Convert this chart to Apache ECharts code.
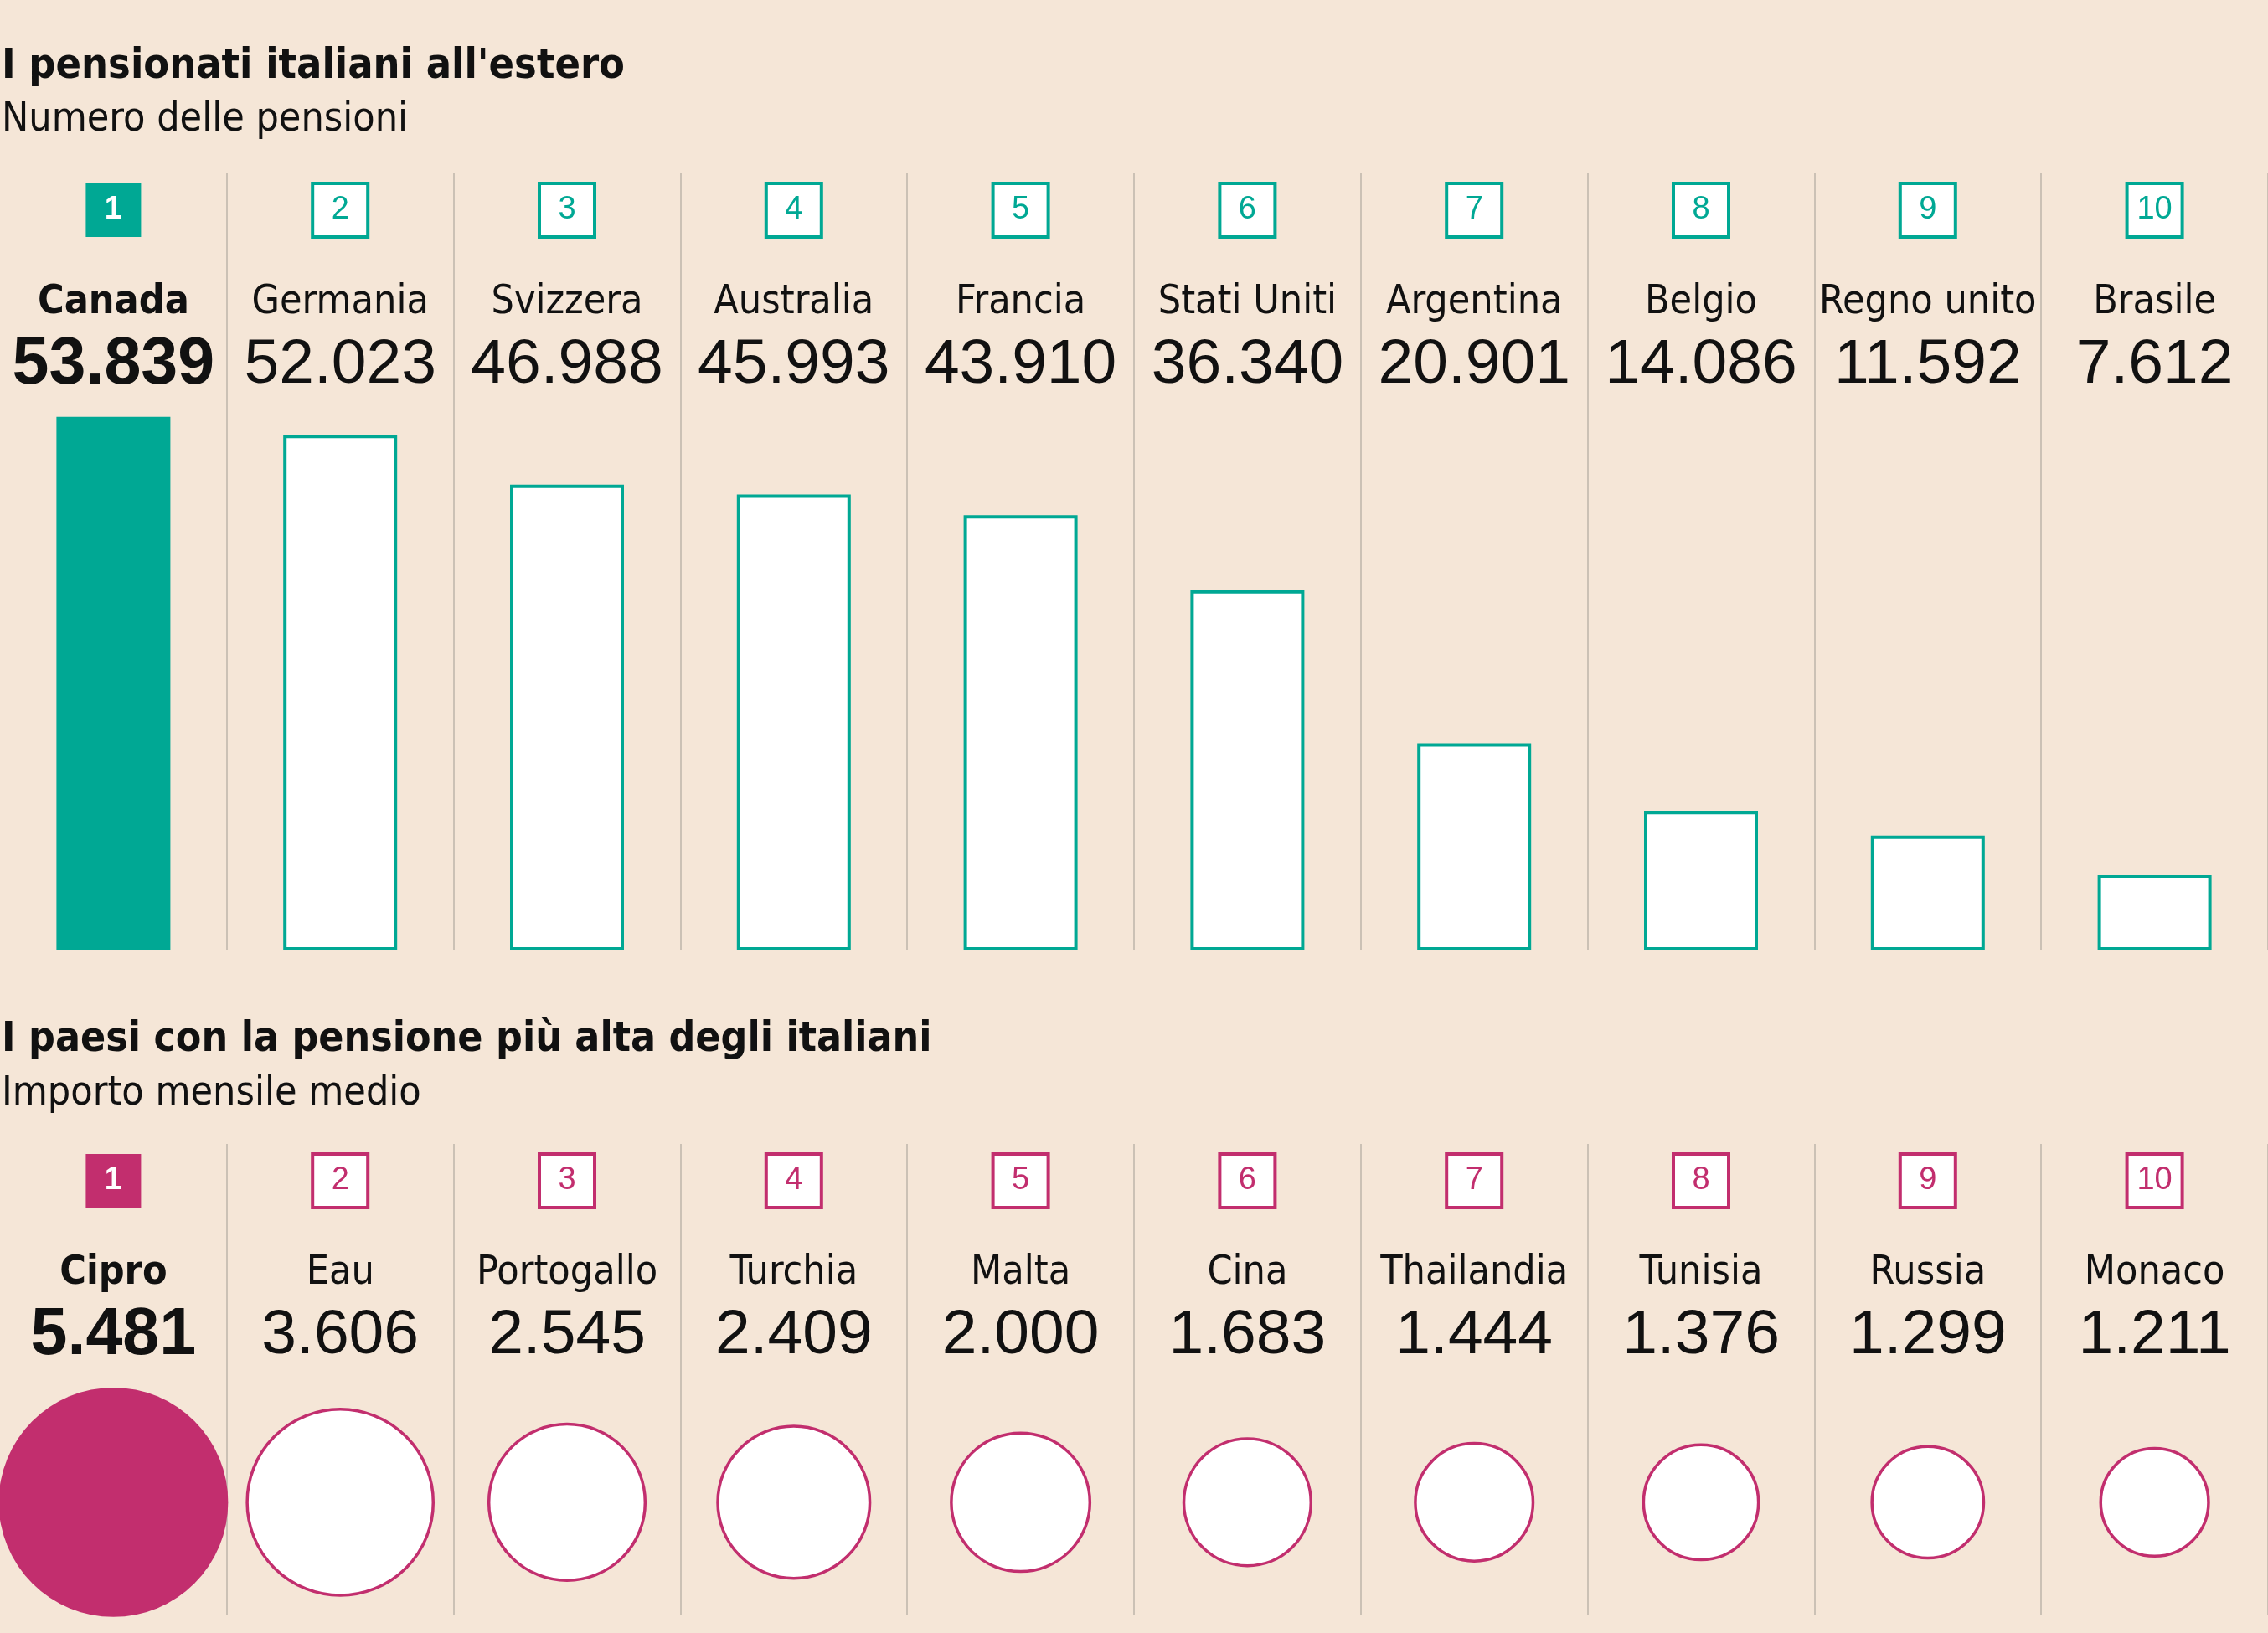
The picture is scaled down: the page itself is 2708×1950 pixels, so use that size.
<!DOCTYPE html>
<html>
<head>
<meta charset="utf-8">
<script src="https://cdn.jsdelivr.net/npm/echarts@6/dist/echarts.min.js"></script>
<style>
html,body{margin:0;padding:0;background:#f5e6d7;}
#chart{width:2708px;height:1950px;}
</style>
</head>
<body>
<div id="chart"></div>
<script>
// ---- Data ----
const ranks = ['1','2','3','4','5','6','7','8','9','10'];
const countriesCount = ['Canada','Germania','Svizzera','Australia','Francia','Stati Uniti','Argentina','Belgio','Regno unito','Brasile'];
const pensionsCount = [53839,52023,46988,45993,43910,36340,20901,14086,11592,7612];
const countriesAmount = ['Cipro','Eau','Portogallo','Turchia','Malta','Cina','Thailandia','Tunisia','Russia','Monaco'];
const monthlyAmount = [5481,3606,2545,2409,2000,1683,1444,1376,1299,1211];
const title1 = "I pensionati italiani all'estero";
const subtitle1 = 'Numero delle pensioni';
const title2 = 'I paesi con la pensione più alta degli italiani';
const subtitle2 = 'Importo mensile medio';

// ---- Styles ----
const BG = '#f5e6d7';
const TEAL = '#00a894';
const MAG = '#c22e6e';
const INK = '#111111';
const DIV = '#bdb4aa';
const COND = '"DejaVu Sans Condensed","Liberation Sans Narrow",sans-serif';
const NUMF = '"Liberation Sans",Arial,sans-serif';

const fmt = n => String(n).replace(/\B(?=(\d{3})+(?!\d))/g, '.');

function rankAxis(grid, color) {
  return {
    gridIndex: grid, type: 'category', data: ranks, position: 'top',
    axisLine: {show: false}, axisTick: {show: false}, splitLine: {show: false},
    axisLabel: {
      inside: true, margin: 44, verticalAlign: 'middle', interval: 0,
      formatter: (v, i) => i === 0 ? '{f|' + v + '}' : '{o|' + v + '}',
      rich: {
        f: {color: '#fff', fontWeight: 'bold', fontFamily: NUMF, fontSize: 38, backgroundColor: color,
            width: 66, height: 64, lineHeight: 64, align: 'center'},
        o: {color: color, fontFamily: NUMF, fontSize: 38, backgroundColor: '#fff', borderColor: color, borderWidth: 4,
            width: 62, height: 60, lineHeight: 60, align: 'center'}
      }
    }
  };
}
function nameAxis(grid, data) {
  return {
    gridIndex: grid, type: 'category', data: data, position: 'top',
    axisLine: {show: false}, axisTick: {show: false}, splitLine: {show: false},
    axisLabel: {
      inside: true, margin: 155, verticalAlign: 'middle', interval: 0,
      formatter: (v, i) => i === 0 ? '{b|' + v + '}' : '{n|' + v + '}',
      rich: {
        b: {color: INK, fontWeight: 'bold', fontFamily: COND, fontSize: 48},
        n: {color: INK, fontFamily: COND, fontSize: 48}
      }
    }
  };
}
function valueAxis(grid, vals) {
  return {
    gridIndex: grid, type: 'category', data: vals.map(fmt), position: 'top',
    axisLine: {show: false}, axisTick: {show: false}, splitLine: {show: false},
    axisLabel: {
      inside: true, margin: 229, verticalAlign: 'middle', interval: 0,
      formatter: (v, i) => i === 0 ? '{b|' + v + '}' : '{n|' + v + '}',
      rich: {
        b: {color: INK, fontWeight: 'bold', fontFamily: NUMF, fontSize: 79},
        n: {color: INK, fontFamily: NUMF, fontSize: 75}
      }
    }
  };
}
function baseAxis(grid, data) {
  return {
    gridIndex: grid, type: 'category', data: data, position: 'bottom',
    axisLine: {show: false}, axisTick: {show: false}, axisLabel: {show: false},
    splitLine: {show: true, interval: (i) => i >= 1, lineStyle: {color: DIV, width: 1.5}}
  };
}

const chart = echarts.init(document.getElementById('chart'), null, {renderer: 'canvas'});
chart.setOption({
  backgroundColor: BG,
  animation: false,
  graphic: [
    {type: 'text', x: 2, y: 80, style: {text: title1, fill: INK, fontFamily: COND, fontWeight: 'bold', fontSize: 50, verticalAlign: 'middle'}},
    {type: 'text', x: 2, y: 144, style: {text: subtitle1, fill: INK, fontFamily: COND, fontSize: 48, verticalAlign: 'middle'}},
    {type: 'text', x: 2, y: 1242, style: {text: title2, fill: INK, fontFamily: COND, fontWeight: 'bold', fontSize: 49.5, verticalAlign: 'middle'}},
    {type: 'text', x: 2, y: 1307, style: {text: subtitle2, fill: INK, fontFamily: COND, fontSize: 48, verticalAlign: 'middle'}}
  ],
  grid: [
    {left: -2, right: -2, top: 207, height: 928},
    {left: -2, right: -2, top: 1366, height: 563}
  ],
  xAxis: [
    baseAxis(0, countriesCount),
    rankAxis(0, TEAL),
    nameAxis(0, countriesCount),
    valueAxis(0, pensionsCount),
    baseAxis(1, countriesAmount),
    rankAxis(1, MAG),
    nameAxis(1, countriesAmount),
    valueAxis(1, monthlyAmount)
  ],
  yAxis: [
    {gridIndex: 0, type: 'value', min: 0, max: 78400, show: false},
    {gridIndex: 1, type: 'value', min: -24, max: 76, show: false}
  ],
  series: [
    {
      type: 'bar', xAxisIndex: 0, yAxisIndex: 0, barWidth: 136,
      itemStyle: {color: '#fff', borderColor: TEAL, borderWidth: 4},
      data: pensionsCount.map((v, i) => i === 0 ? {value: v, itemStyle: {color: TEAL, borderWidth: 0}} : v)
    },
    {
      type: 'scatter', xAxisIndex: 4, yAxisIndex: 1, clip: false,
      symbol: 'circle',
      symbolSize: v => Math.sqrt(v[2]) * 3.70,
      itemStyle: {color: '#fff', borderColor: MAG, borderWidth: 3.5, opacity: 1},
      data: countriesAmount.map((c, i) => i === 0
        ? {value: [c, 0, monthlyAmount[i]], itemStyle: {color: MAG, borderWidth: 0}}
        : {value: [c, 0, monthlyAmount[i]]})
    }
  ]
});
</script>
</body>
</html>
